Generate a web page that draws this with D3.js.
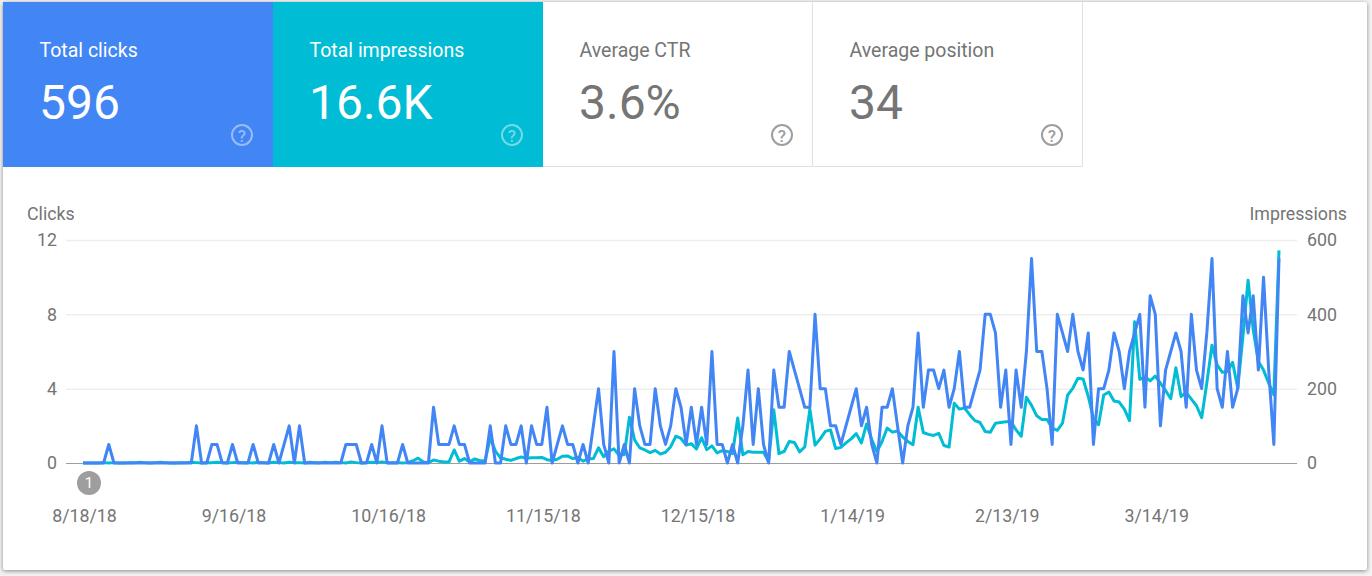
<!DOCTYPE html>
<html>
<head>
<meta charset="utf-8">
<script src="https://cdnjs.cloudflare.com/ajax/libs/d3/7.8.5/d3.min.js"></script>
<style>
  html, body { margin: 0; padding: 0; background: #f3f3f3; overflow: hidden; }
  svg { display: block; font-family: Roboto, sans-serif; }
  .axis path { display: none; }
  .axis text { font-family: Roboto, sans-serif; font-size: 17.8px; fill: #757575; }
</style>
</head>
<body>
<div id="chart"></div>
<script>
// Card contents
var cardTitles = ["Total clicks", "Total impressions", "Average CTR", "Average position"];
var cardValues = ["596", "16.6K", "3.6%", "34"];
var cardFills = ["#4285f4", "#00bcd4", "#ffffff", "#ffffff"];

// Axis ticks
var clickTicks = [0, 4, 8, 12];
var impressionTicks = [0, 200, 400, 600];
var dateLabels = ["8/18/18", "9/16/18", "10/16/18", "11/15/18", "12/15/18", "1/14/19", "2/13/19", "3/14/19"];

// Daily values, 8/18/18 to 4/7/19
var clicks = [
  0,0,0,0,0,1,0,0,0,0,0,0,0,0,0,0,0,0,0,0,0,0,2,0,0,1,1,0,0,1,
  0,0,0,1,0,0,0,1,0,1,2,0,2,0,0,0,0,0,0,0,0,1,1,1,0,0,1,0,2,0,
  0,0,1,0,0,0,0,0,3,1,1,1,2,1,1,0,0,0,0,2,0,0,2,1,1,2,0,2,1,1,
  3,0,1,2,1,1,0,1,0,2,4,1,0,6,0,1,0,4,2,1,1,4,2,1,2,4,3,1,3,1,
  3,1,6,1,1,0,1,0,2,5,1,4,1,0,5,3,3,6,5,4,3,3,8,4,4,2,2,1,2,3,
  4,2,3,1,0,3,3,4,2,0,2,3,7,3,5,5,4,5,3,4,6,3,3,4,5,8,8,7,3,5,
  1,5,3,6,11,6,6,4,1,8,7,6,8,6,5,7,1,4,4,5,7,6,4,6,7,8,3,9,8,2,
  5,6,7,6,3,8,5,4,7,11,4,3,6,3,4,9,7,9,5,10,5,1,11
];
var impressions = [
  0,0,0,0,1,0,1,0,0,1,1,2,1,0,1,2,1,0,0,1,1,2,1,0,1,1,2,1,0,1,
  2,1,1,0,2,1,0,2,1,0,2,1,1,0,2,1,1,2,1,2,1,0,3,1,0,1,2,1,3,1,
  1,1,0,1,6,13,3,1,8,5,3,3,35,5,12,3,11,6,6,68,32,14,10,7,12,16,13,14,14,15,
  9,7,10,18,19,12,15,5,11,12,41,17,32,38,21,23,123,62,41,35,28,34,24,29,44,72,66,48,52,38,
  68,36,46,27,33,31,25,121,22,31,29,29,29,5,143,25,31,58,55,30,43,145,48,65,85,89,39,42,54,65,
  79,54,105,63,31,58,94,83,86,70,58,49,150,82,77,74,80,47,43,161,145,148,130,114,109,85,83,107,109,111,
  111,89,72,177,155,127,117,117,94,88,107,183,201,228,226,179,121,103,183,191,167,164,145,114,380,225,232,221,234,215,
  195,173,256,179,190,172,154,122,215,317,264,244,246,271,201,340,492,358,273,250,215,183,572
];
var dates = d3.timeDay.range(new Date(2018, 7, 18), new Date(2019, 3, 8));

var svgWidth = 1372;
var svgHeight = 576;

var svg = d3.select("#chart")
  .append("svg")
  .attr("width", svgWidth)
  .attr("height", svgHeight);

// White paper behind everything
svg.append("rect")
  .attr("x", 3)
  .attr("y", 2)
  .attr("width", 1364)
  .attr("height", 568)
  .attr("rx", 2)
  .attr("fill", "#fff")
  .style("filter", "drop-shadow(0 1px 2px rgba(0,0,0,0.45))");

// Scorecards
var cardWidth = 270;
var cardX = d3.scaleBand().domain(d3.range(4)).range([3, 1083]);

var cards = svg.selectAll(".card")
  .data(cardTitles)
  .enter()
  .append("g")
  .attr("class", "card")
  .attr("transform", (d, i) => `translate(${cardX(i)}, 2)`);

cards.append("rect")
  .attr("width", cardWidth)
  .attr("height", 165)
  .attr("fill", (d, i) => cardFills[i]);

// Borders of the two white cards
var borderCards = cards.filter((d, i) => i > 1);
borderCards.append("path")
  .attr("d", `M0,164.5H${cardWidth - 0.5}V0`)
  .attr("fill", "none")
  .attr("stroke", "#e0e0e0");

cards.append("text")
  .attr("x", 36.5)
  .attr("y", 54.5)
  .attr("font-size", 19.5)
  .attr("fill", (d, i) => i < 2 ? "#fff" : "#757575")
  .text(d => d);

cards.append("text")
  .attr("x", 36)
  .attr("y", 117)
  .attr("font-size", 48)
  .attr("fill", (d, i) => i < 2 ? "#fff" : "#757575")
  .text((d, i) => cardValues[i]);

cards.append("circle")
  .attr("cx", 239)
  .attr("cy", 133)
  .attr("r", 10)
  .attr("fill", "none")
  .attr("stroke-width", 2)
  .attr("stroke", (d, i) => i < 2 ? "rgba(255,255,255,0.45)" : "#9e9e9e");

cards.append("text")
  .attr("x", 239)
  .attr("y", 139.5)
  .attr("text-anchor", "middle")
  .attr("font-size", 17)
  .attr("font-weight", 500)
  .attr("fill", (d, i) => i < 2 ? "rgba(255,255,255,0.45)" : "#9e9e9e")
  .text("?");

// Scales
var xScale = d3.scaleTime()
  .domain([dates[0], dates[dates.length - 1]])
  .range([83, 1279]);

var clickScale = d3.scaleLinear().domain([0, 12]).range([463, 240]);
var impressionScale = d3.scaleLinear().domain([0, 600]).range([463, 240]);

// Axes
var gridLeft = 66;
var gridRight = 1297;
var parseLabel = d3.timeParse("%m/%d/%y");

var leftAxis = d3.axisLeft(clickScale)
  .tickValues(clickTicks)
  .tickSize(-(gridRight - gridLeft))
  .tickPadding(9);

var leftGroup = svg.append("g")
  .attr("class", "axis")
  .attr("transform", `translate(${gridLeft}, 0)`)
  .call(leftAxis);

leftGroup.selectAll("line")
  .attr("stroke", d => d === 0 ? "#9e9e9e" : "#eeeeee")
  .attr("stroke-width", d => d === 0 ? 1 : 1.5);

var rightAxis = d3.axisRight(impressionScale)
  .tickValues(impressionTicks)
  .tickSize(0)
  .tickPadding(10);

var rightGroup = svg.append("g")
  .attr("class", "axis")
  .attr("transform", `translate(${gridRight}, 0)`)
  .call(rightAxis);

var bottomAxis = d3.axisBottom(xScale)
  .tickValues(dateLabels.map(parseLabel))
  .tickFormat((d, i) => dateLabels[i])
  .tickSize(0)
  .tickPadding(0);

var bottomGroup = svg.append("g")
  .attr("class", "axis")
  .attr("transform", "translate(1, 509)")
  .call(bottomAxis);

bottomGroup.selectAll("line").remove();

// Axis titles
svg.append("text")
  .attr("x", 27)
  .attr("y", 219.5)
  .attr("font-size", 17.8)
  .attr("fill", "#757575")
  .text("Clicks");

svg.append("text")
  .attr("x", 1347)
  .attr("y", 219.5)
  .attr("text-anchor", "end")
  .attr("font-size", 17.8)
  .attr("fill", "#757575")
  .text("Impressions");

// Lines
var impressionLine = d3.line()
  .x((d, i) => xScale(dates[i]))
  .y(d => impressionScale(d));

var clickLine = d3.line()
  .x((d, i) => xScale(dates[i]))
  .y(d => clickScale(d));

svg.append("path")
  .datum(impressions)
  .attr("d", impressionLine)
  .attr("fill", "none")
  .attr("stroke", "#00bcd4")
  .attr("stroke-width", 3)
  .attr("stroke-linejoin", "round");

svg.append("path")
  .datum(clicks)
  .attr("d", clickLine)
  .attr("fill", "none")
  .attr("stroke", "#4285f4")
  .attr("stroke-width", 3)
  .attr("stroke-linejoin", "round");

// Annotation badge
svg.append("circle")
  .attr("cx", 89)
  .attr("cy", 483)
  .attr("r", 12)
  .attr("fill", "#9e9e9e");

svg.append("text")
  .attr("x", 89)
  .attr("y", 488)
  .attr("text-anchor", "middle")
  .attr("font-size", 15)
  .attr("fill", "#fff")
  .text("1");
</script>
</body>
</html>
